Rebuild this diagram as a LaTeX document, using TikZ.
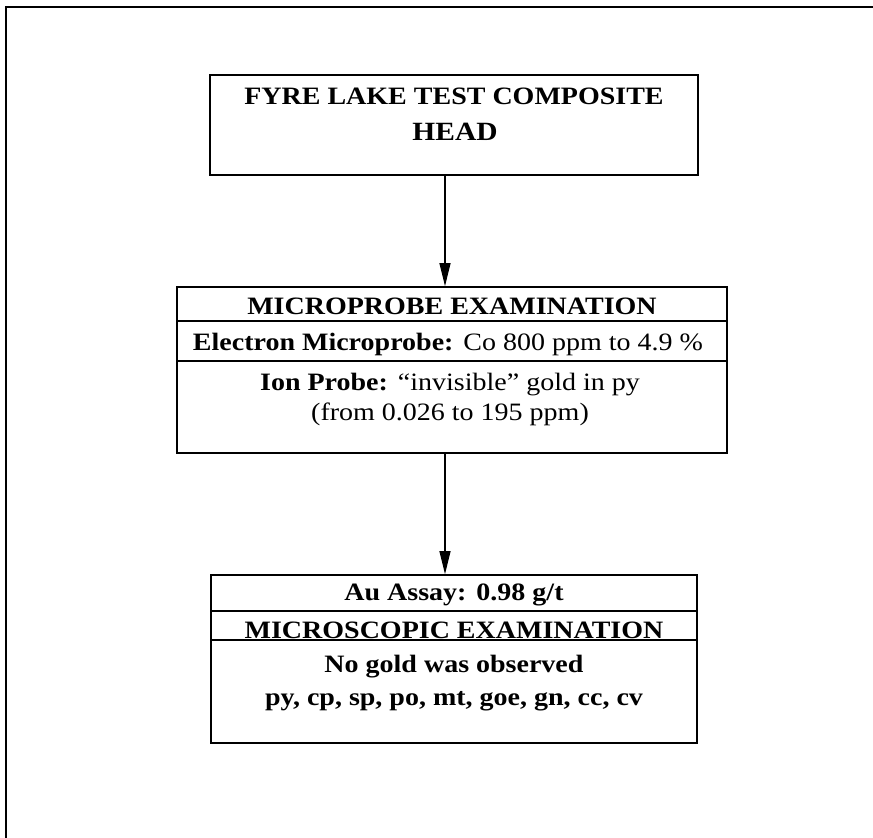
\documentclass[tikz,border=0pt]{standalone}
\usepackage{fontspec}
\setmainfont{Liberation Serif}[FakeStretch=1.12]
\usetikzlibrary{arrows.meta,calc}
\begin{document}
\begin{tikzpicture}[x=1pt,y=-1pt,
  box/.style={draw, line width=1.7pt, rectangle, inner sep=0pt},
  divline/.style={line width=1.7pt},
  txt/.style={inner sep=0pt, anchor=base, font=\fontsize{25}{30}\selectfont},
  arr/.style={line width=1.2pt, -{Triangle[length=23pt,width=11pt]}},
  frame/.style={line width=2pt}]
\useasboundingbox (0,0) rectangle (873,838);
\coordinate (fbl) at (5.5,838);
\coordinate (ftl) at (5.5,7);
\coordinate (ftr) at (873,7);
\draw[frame] (fbl) -- (ftl) -- (ftr);
\coordinate (ax) at (445,0);
% box 1  (y 75 .. 175)
\node[box, minimum width=488pt, minimum height=100pt] (b1) at (454,125) {};
\node[txt] (t1a) at (454,104) {\bfseries FYRE LAKE TEST COMPOSITE};
\node[txt, font=\fontsize{26.3}{30}\selectfont] (t1b) at (455,140) {\bfseries HEAD};
% box 2  (y 287 .. 453)
\node[box, minimum width=550pt, minimum height=166pt] (b2) at (452,370) {};
\draw[divline] ($(b2.north west)+(0,35)$) -- ($(b2.north east)+(0,35)$);
\draw[divline] ($(b2.north west)+(0,75)$) -- ($(b2.north east)+(0,75)$);
\node[txt] (t2a) at (452,314) {\bfseries MICROPROBE EXAMINATION};
\node[txt] (t2b) at (448,350) {\textbf{Electron Microprobe:}\hspace{0.4em}Co 800 ppm to 4.9 \%};
\node[txt] (t2c) at (450,390) {\textbf{Ion Probe:}\hspace{0.4em}“invisible” gold in py};
\node[txt] (t2d) at (450,420) {(from 0.026 to 195 ppm)};
% box 3  (y 575 .. 743)
\node[box, minimum width=486pt, minimum height=168pt] (b3) at (454,659) {};
\draw[divline] ($(b3.north west)+(0,37)$) -- ($(b3.north east)+(0,37)$);
\draw[divline] ($(b3.north west)+(0,66)$) -- ($(b3.north east)+(0,66)$);
\node[txt] (t3a) at (454,600) {\bfseries Au Assay:\hspace{0.4em}0.98 g/t};
\node[txt] (t3b) at (454,638) {\bfseries MICROSCOPIC EXAMINATION};
\node[txt] (t3c) at (454,672) {\bfseries No gold was observed};
\node[txt] (t3d) at (454,705) {\bfseries py, cp, sp, po, mt, goe, gn, cc, cv};
% arrows
\draw[arr] (b1.south -| ax) -- (b2.north -| ax);
\draw[arr] (b2.south -| ax) -- (b3.north -| ax);
\end{tikzpicture}
\end{document}
